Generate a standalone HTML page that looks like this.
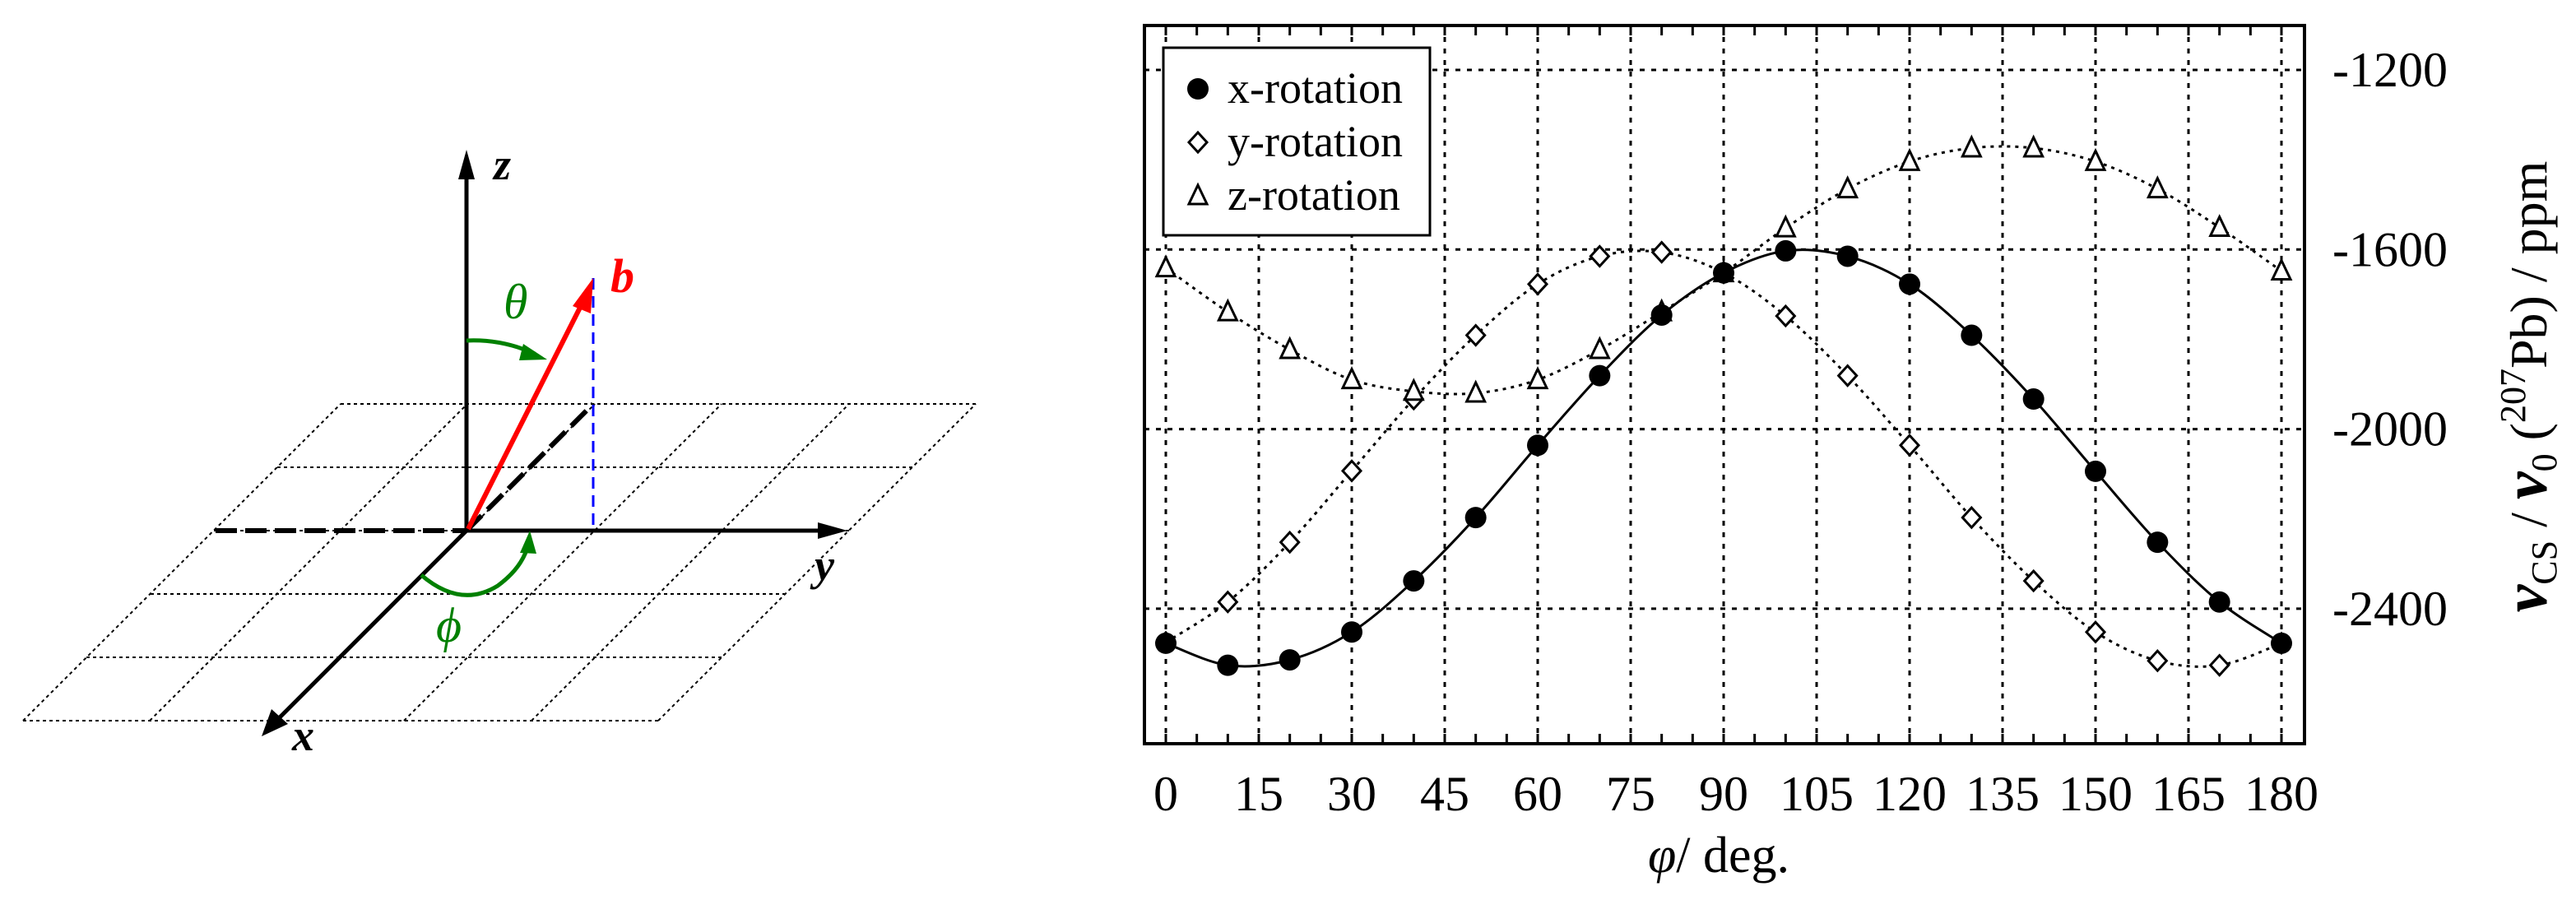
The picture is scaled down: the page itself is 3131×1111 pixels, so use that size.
<!DOCTYPE html>
<html><head><meta charset="utf-8"><style>
html,body{margin:0;padding:0;background:#fff;}
svg, svg text, svg tspan{font-family:"Liberation Serif","DejaVu Serif","Times New Roman",serif !important;}
</style></head><body>
<svg id="fig" width="3131" height="1106" viewBox="0 0 3131 1106" xmlns="http://www.w3.org/2000/svg" font-family="Liberation Serif, DejaVu Serif, serif">
<g>
  <g stroke="#000" stroke-width="2" stroke-dasharray="4,4" fill="none">
    <line x1="414" y1="491" x2="1186" y2="491"/>
    <line x1="337" y1="568" x2="1109" y2="568"/>
    <line x1="260" y1="645" x2="1032" y2="645"/>
    <line x1="183" y1="722" x2="955" y2="722"/>
    <line x1="105" y1="799" x2="877" y2="799"/>
    <line x1="28" y1="876" x2="800" y2="876"/>
    <line x1="28" y1="876" x2="414" y2="491"/>
    <line x1="182" y1="876" x2="568" y2="491"/>
    <line x1="337" y1="876" x2="723" y2="491"/>
    <line x1="491" y1="876" x2="877" y2="491"/>
    <line x1="646" y1="876" x2="1032" y2="491"/>
    <line x1="800" y1="876" x2="1186" y2="491"/>
  </g>
  <line x1="262" y1="645" x2="567" y2="645" stroke="#000" stroke-width="6" stroke-dasharray="26,10"/>
  <line x1="567" y1="645" x2="721" y2="491" stroke="#000" stroke-width="6" stroke-dasharray="26,10"/>
  <line x1="721" y1="338" x2="721" y2="645" stroke="#0000ff" stroke-width="3" stroke-dasharray="14,8"/>
  <line x1="567" y1="645" x2="567" y2="200" stroke="#000" stroke-width="5"/>
  <polygon points="567,182 557,218 577,218" fill="#000"/>
  <line x1="567" y1="645" x2="1010" y2="645" stroke="#000" stroke-width="5"/>
  <polygon points="1030,645 994,635 994,655" fill="#000"/>
  <line x1="567" y1="645" x2="330" y2="882" stroke="#000" stroke-width="5"/>
  <polygon points="318,895 330,862 350,880" fill="#000"/>
  <line x1="569" y1="643" x2="712" y2="360" stroke="#ff0000" stroke-width="6"/>
  <polygon points="721,338 696,372 718,381" fill="#ff0000"/>
  <path d="M567,414 Q610,412 650,430" stroke="#008000" stroke-width="5" fill="none"/>
  <polygon points="665,437 636,418 631,438" fill="#008000"/>
  <path d="M512,699 Q560,740 605,712 Q635,690 642,662" stroke="#008000" stroke-width="5" fill="none"/>
  <polygon points="644,645 632,672 652,673" fill="#008000"/>
  <text x="600" y="218" font-size="54" font-style="italic" font-weight="bold">z</text>
  <text x="990" y="705" font-size="54" font-style="italic" font-weight="bold">y</text>
  <text x="355" y="912" font-size="54" font-style="italic" font-weight="bold">x</text>
  <text x="742" y="355" font-size="58" font-style="italic" font-weight="bold" fill="#ff0000">b</text>
  <text x="612" y="387" font-size="60" font-style="italic" fill="#008000">θ</text>
  <text x="530" y="780" font-size="60" font-style="italic" fill="#008000">ϕ</text>
</g>
<g id="chart"></g>
</svg>
<script>
const angles = [0,10,20,30,40,50,60,70,80,90,100,110,120,130,140,150,160,170,180];
const xRot = [-2477,-2526,-2514,-2452,-2338,-2197,-2036,-1881,-1746,-1652,-1603,-1615,-1677,-1791,-1933,-2094,-2252,-2385,-2477];
const yRot = [-2475,-2385,-2252,-2093,-1933,-1791,-1677,-1615,-1606,-1652,-1748,-1881,-2036,-2197,-2338,-2452,-2516,-2526,-2477];
const zRot = [-1641,-1739,-1823,-1890,-1916,-1920,-1890,-1823,-1739,-1652,-1552,-1465,-1404,-1374,-1374,-1404,-1465,-1551,-1648];
const xTicks = [0,15,30,45,60,75,90,105,120,135,150,165,180];
const yTicks = [-1200,-1600,-2000,-2400];

const NS = "http://www.w3.org/2000/svg";
const g = document.getElementById('chart');
const L = 1391, R = 2801, T = 31, B = 904;
function sx(v){ return 1417 + v/180*1356; }
function sy(v){ return 85 + (-1200 - v)/400*218.3; }
function mk(tag, attrs, parent){ const e = document.createElementNS(NS, tag); for (const k in attrs) e.setAttribute(k, attrs[k]); (parent||g).appendChild(e); return e; }

xTicks.forEach(t => {
  const l = mk('line', {x1:sx(t), x2:sx(t), y1:T, y2:B, stroke:'#000', 'stroke-width':3, 'stroke-dasharray':'6,8'});
  
  
  const tx = mk('text', {x:sx(t), y:985, 'font-size':60, 'text-anchor':'middle'});
  tx.textContent = t;
  
  
});
for (let t = 0; t <= 180; t += 5) {
  mk('line', {x1:sx(t), x2:sx(t), y1:B, y2:B-12, stroke:'#000', 'stroke-width':3});
  mk('line', {x1:sx(t), x2:sx(t), y1:T, y2:T+12, stroke:'#000', 'stroke-width':3});
}
yTicks.forEach(t => {
  const l = mk('line', {x1:L, x2:R, y1:sy(t), y2:sy(t), stroke:'#000', 'stroke-width':3, 'stroke-dasharray':'6,8'});
  
  
  const tx = mk('text', {x:2975, y:sy(t)+20, 'font-size':60, 'text-anchor':'end'});
  tx.textContent = t;
  
  
});
const frame = mk('rect', {x:L, y:T, width:R-L, height:B-T, fill:'none', stroke:'#000', 'stroke-width':4});



function curve(vals){
  const p = angles.map((a,i)=>[sx(a), sy(vals[i])]);
  let d = 'M'+p[0][0]+','+p[0][1];
  for (let i=0;i<p.length-1;i++){
    const p0 = p[Math.max(0,i-1)], p1=p[i], p2=p[i+1], p3=p[Math.min(p.length-1,i+2)];
    const c1 = [p1[0]+(p2[0]-p0[0])/6, p1[1]+(p2[1]-p0[1])/6];
    const c2 = [p2[0]-(p3[0]-p1[0])/6, p2[1]-(p3[1]-p1[1])/6];
    d += ' C'+c1[0]+','+c1[1]+' '+c2[0]+','+c2[1]+' '+p2[0]+','+p2[1];
  }
  return d;
}
const cy = mk('path', {d:curve(yRot), fill:'none', stroke:'#000', 'stroke-width':3, 'stroke-dasharray':'4,6'});


const cz = mk('path', {d:curve(zRot), fill:'none', stroke:'#000', 'stroke-width':3, 'stroke-dasharray':'4,6'});


const cx = mk('path', {d:curve(xRot), fill:'none', stroke:'#000', 'stroke-width':3});



function circle(x,y){ return mk('circle', {cx:x, cy:y, r:13, fill:'#000'}); }
function diamond(x,y){ return mk('polygon', {points:`${x},${y-12} ${x+11},${y} ${x},${y+12} ${x-11},${y}`, fill:'#fff', stroke:'#000', 'stroke-width':3}); }
function tri(x,y){ return mk('polygon', {points:`${x},${y-13} ${x+11},${y+10} ${x-11},${y+10}`, fill:'#fff', stroke:'#000', 'stroke-width':3}); }
angles.forEach((a,i)=>{
  const m2 = diamond(sx(a), sy(yRot[i]));
  
  
  const m3 = tri(sx(a), sy(zRot[i]));
  
  
});
angles.forEach((a,i)=>{
  const m1 = circle(sx(a), sy(xRot[i]));
  
  
});

const lg = mk('rect', {x:1414, y:58, width:324, height:228, fill:'#fff', stroke:'#000', 'stroke-width':3});


const rows = [['x-rotation', circle], ['y-rotation', diamond], ['z-rotation', tri]];
rows.forEach((r,i)=>{
  const y = 108 + i*65;
  const m = r[1](1456, y);
  
  
  const t = mk('text', {x:1492, y:y+17, 'font-size':54});
  t.textContent = r[0];
  
  
});

const xt = mk('text', {x:2089, y:1060, 'font-size':62, 'text-anchor':'middle'});
xt.innerHTML = '<tspan font-style="italic">φ</tspan>/ deg.';


const yt = mk('text', {x:0, y:0, 'font-size':64, 'text-anchor':'middle', transform:'translate(3095,470) rotate(-90)'});
yt.innerHTML = '<tspan font-style="italic" font-weight="bold" font-size="76">ν</tspan><tspan font-size="44" dy="12">CS</tspan><tspan dy="-12"> / </tspan><tspan font-style="italic" font-weight="bold" font-size="76">ν</tspan><tspan font-size="44" dy="12">0</tspan><tspan dy="-12"> (</tspan><tspan font-size="44" dy="-26">207</tspan><tspan dy="26">Pb) / ppm</tspan>';


</script>
</body></html>
